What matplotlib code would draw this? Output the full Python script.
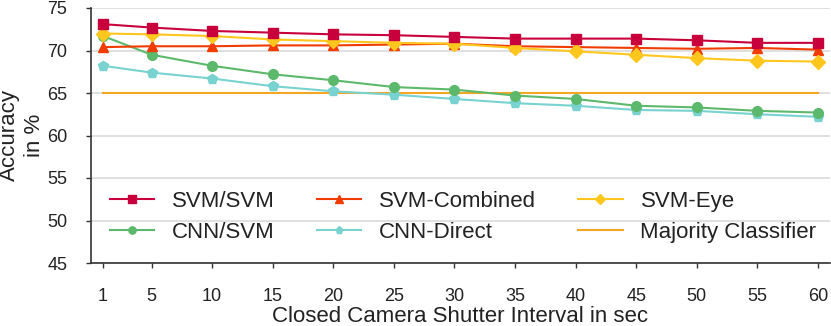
import matplotlib
matplotlib.use("Agg")
import matplotlib.pyplot as plt

plt.rcParams['font.family'] = ['Liberation Sans', 'DejaVu Sans']

intervals = [1, 5, 10, 15, 20, 25, 30, 35, 40, 45, 50, 55, 60]
svm_svm = [73.1, 72.7, 72.3, 72.1, 71.9, 71.8, 71.6, 71.4, 71.4, 71.4, 71.2, 70.9, 70.9]
svm_combined = [70.4, 70.5, 70.5, 70.6, 70.6, 70.7, 70.8, 70.5, 70.4, 70.3, 70.2, 70.3, 70.1]
svm_eye = [72.0, 71.9, 71.7, 71.3, 71.1, 70.9, 70.8, 70.3, 69.9, 69.5, 69.1, 68.8, 68.7]
cnn_svm = [71.7, 69.5, 68.2, 67.2, 66.5, 65.7, 65.4, 64.7, 64.3, 63.5, 63.3, 62.9, 62.7]
cnn_direct = [68.2, 67.4, 66.7, 65.8, 65.2, 64.8, 64.3, 63.8, 63.5, 63.0, 62.9, 62.5, 62.2]
majority = [65.0] * len(intervals)
yticks = [45, 50, 55, 60, 65, 70, 75]

fig = plt.figure(figsize=(8.31, 3.26), dpi=100)
ax = fig.add_axes([91/831, 1-263/326, 739/831, 255/326])

txt = '#222222'
lw = 1.5
ax.plot(intervals, majority, color='#f5a623', lw=lw, label='Majority Classifier', zorder=2)
ax.plot(intervals, cnn_direct, color='#78d2d0', lw=lw, marker='p', ms=7, label='CNN-Direct', zorder=3)
ax.plot(intervals, cnn_svm, color='#5cb96c', lw=lw, marker='o', ms=7, label='CNN/SVM', zorder=4)
ax.plot(intervals, svm_combined, color='#f03c00', lw=lw, marker='^', ms=7, label='SVM-Combined', zorder=5)
ax.plot(intervals, svm_eye, color='#ffc71e', lw=lw, marker='D', ms=7, label='SVM-Eye', zorder=6)
ax.plot(intervals, svm_svm, color='#c8003c', lw=lw, marker='s', ms=7, label='SVM/SVM', zorder=7)

ax.set_xlim(0, 61)
ax.set_ylim(45, 75)
ax.set_xticks(intervals)
ax.set_yticks(yticks)
ax.yaxis.grid(True, color='#dddddd', lw=1.3, zorder=0)
ax.set_axisbelow(True)
for s in ['top', 'right']:
    ax.spines[s].set_visible(False)
for s in ['left', 'bottom']:
    ax.spines[s].set_color('#333333')
    ax.spines[s].set_linewidth(1.2)
ax.tick_params(axis='both', direction='out', length=3.6, width=1, color='#333333',
               labelsize=13, labelcolor=txt)
ax.tick_params(axis='y', pad=13.5)
ax.tick_params(axis='x', pad=14.5)

fig.text(460/831, 1-321.7/326, 'Closed Camera Shutter Interval in sec', ha='center',
         va='baseline', fontsize=16, color=txt)
fig.text(22/831, 1-135.5/326, 'Accuracy\nin %', rotation=90, ha='center', va='center',
         fontsize=16, color=txt, linespacing=1.2, multialignment='center')

h, l = ax.get_legend_handles_labels()
order = ['SVM/SVM', 'CNN/SVM', 'SVM-Combined', 'CNN-Direct', 'SVM-Eye', 'Majority Classifier']
hm = dict(zip(l, h))
leg = ax.legend([hm[o] for o in order], order, ncol=3, frameon=False, fontsize=16,
                loc='upper left', bbox_to_anchor=(0.004, 0.345), handlelength=2.0,
                handletextpad=0.8, columnspacing=1.9, labelspacing=0.45, markerscale=0.75,
                borderaxespad=0.3)
for t in leg.get_texts():
    t.set_color(txt)

fig.savefig('out.png', dpi=100)
